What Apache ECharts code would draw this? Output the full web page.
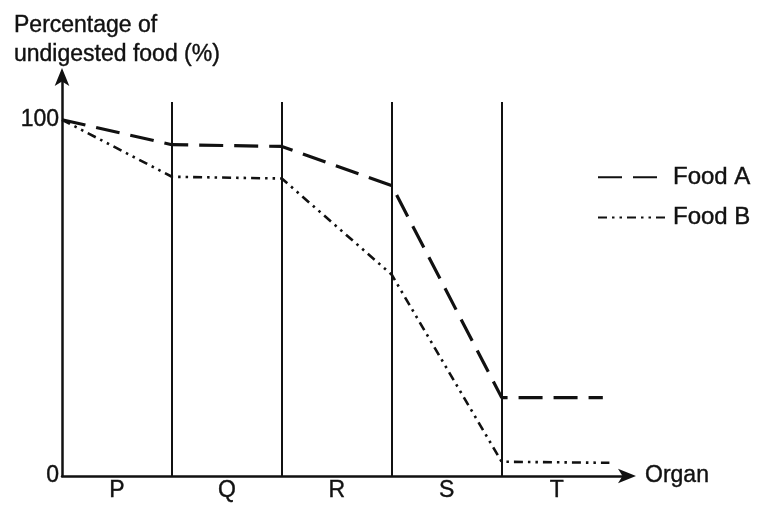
<!DOCTYPE html>
<html><head><meta charset="utf-8">
<script src="https://cdn.jsdelivr.net/npm/echarts@6/dist/echarts.min.js"></script>
<style>html,body{margin:0;padding:0;background:#fff}#c{width:758px;height:509px}</style>
</head><body><div id="c"></div>
<script>
const organs = ['P','Q','R','S','T'];
const boundaries = [1, 2, 3, 4];
const foodAx = [0, 1, 2, 3, 4, 4.92];
const foodA = [100, 93, 92.5, 81.5, 22, 22];
const foodBx = [0, 1, 2, 3, 4, 4.98];
const foodB = [100, 84, 83.5, 56.5, 4, 3.7];
const yTicks = [0, 100];

const chart = echarts.init(document.getElementById('c'));
const font = "'Liberation Sans', Arial, sans-serif";
const ink = '#111';
const txt = { fontFamily: font, fontSize: 23, color: ink, textBorderColor: ink, textBorderWidth: 0.4 };
chart.setOption({
  animation: false,
  backgroundColor: '#fff',
  title: {
    text: 'Percentage of\nundigested food (%)',
    left: 9, top: 6,
    textStyle: Object.assign({}, txt, { fontWeight: 'normal', lineHeight: 29 })
  },
  legend: {
    orient: 'vertical', left: 592, top: 160, itemGap: 16,
    itemWidth: 70, itemHeight: 10,
    itemStyle: { opacity: 0 },
    textStyle: Object.assign({}, txt, { fontSize: 24 }),
    data: ['Food A', 'Food B']
  },
  grid: { left: 62, right: 131, top: 77, bottom: 33 },
  xAxis: {
    type: 'value', min: 0, max: 5.14, interval: 0.5,
    name: 'Organ', nameLocation: 'end', nameGap: 18,
    nameTextStyle: Object.assign({}, txt, { verticalAlign: 'middle', padding: [12, 0, 0, 0] }),
    axisLine: { show: true, lineStyle: { color: ink, width: 2.5 }, symbol: ['none', 'arrow'], symbolSize: [11, 18], symbolOffset: [0, 9] },
    axisTick: { show: false },
    splitLine: { show: false },
    axisLabel: Object.assign({}, txt, { margin: 3, showMaxLabel: false,
      formatter: v => { const i = Math.round(v - 0.5); return (Math.abs(v - 0.5 - i) < 1e-6 && organs[i]) ? organs[i] : ''; } })
  },
  yAxis: {
    type: 'value', min: 0, max: 112, interval: 100,
    axisLine: { show: true, lineStyle: { color: ink, width: 2.5 }, symbol: ['none', 'arrow'], symbolSize: [11, 18], symbolOffset: [0, 9] },
    axisTick: { show: false },
    splitLine: { show: false },
    axisLabel: Object.assign({}, txt, { margin: 3, showMaxLabel: false,
      formatter: v => yTicks.includes(v) ? String(v) : '' })
  },
  series: [
    {
      name: 'Food A', type: 'line', symbol: 'none',
      lineStyle: { color: ink, width: 3.2, type: [24, 11] },
      itemStyle: { color: ink },
      data: foodAx.map((x, i) => [x, foodA[i]]),
      markLine: {
        silent: true, symbol: ['none', 'none'], label: { show: false },
        lineStyle: { color: ink, width: 2, type: 'solid' },
        data: boundaries.map(b => [{ coord: [b, 0] }, { coord: [b, 105] }])
      },
      z: 3
    },
    {
      name: 'Food B', type: 'line', symbol: 'none',
      lineStyle: { color: ink, width: 2.6, type: [9, 5, 2.5, 5, 2.5, 5] },
      itemStyle: { color: ink },
      data: foodBx.map((x, i) => [x, foodB[i]]),
      z: 3
    }
  ]
});
</script></body></html>
